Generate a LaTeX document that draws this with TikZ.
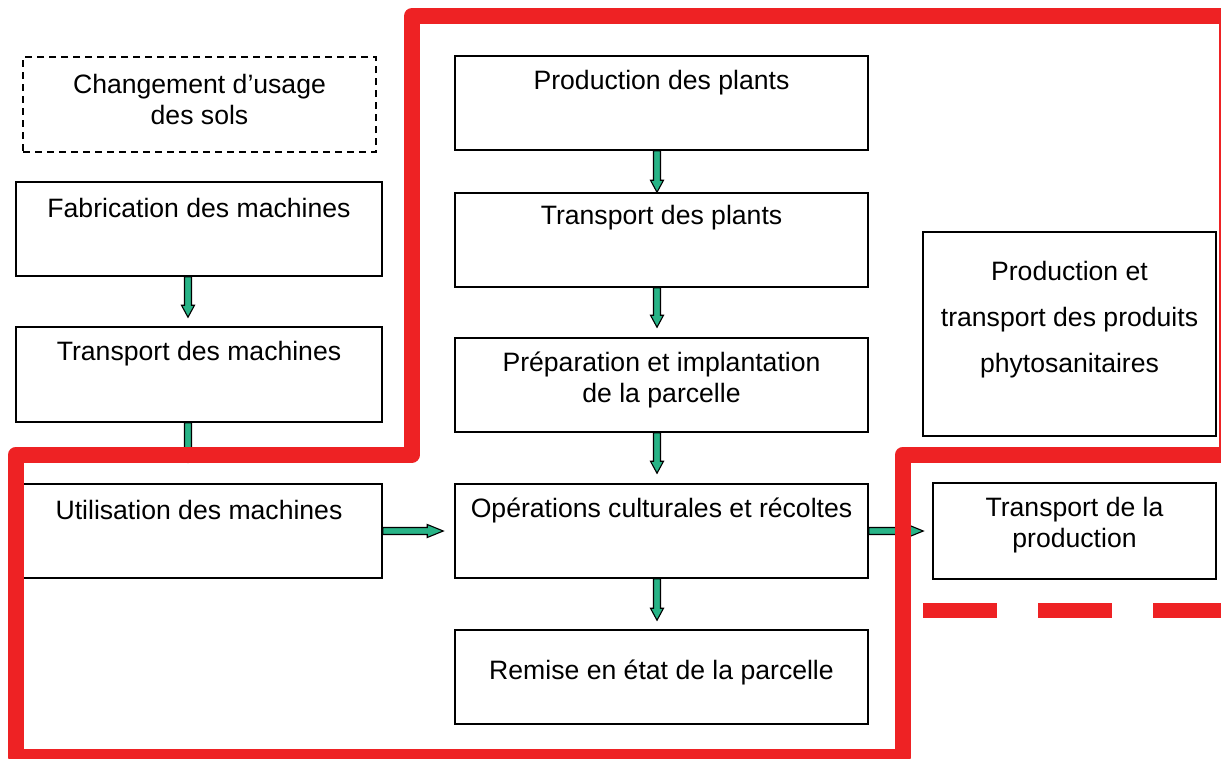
\documentclass[tikz,border=0pt]{standalone}
\usepackage{fontspec}
\setmainfont{Liberation Sans}
\usetikzlibrary{calc}
\definecolor{redline}{RGB}{238,34,36}
\definecolor{arrgreen}{RGB}{40,180,135}
\newcommand{\vblock}[2]{\draw[blockarr] ($(#1)+(-3.5,0)$) -- ($(#2)+(-3.5,-12)$) -- ($(#2)+(-6.5,-12)$) -- (#2) -- ($(#2)+(6.5,-12)$) -- ($(#2)+(3.5,-12)$) -- ($(#1)+(3.5,0)$) -- cycle;}
\newcommand{\hblock}[2]{\draw[blockarr] ($(#1)+(0,-3.5)$) -- ($(#2)+(-16,-3.5)$) -- ($(#2)+(-16,-6.5)$) -- (#2) -- ($(#2)+(-16,6.5)$) -- ($(#2)+(-16,3.5)$) -- ($(#1)+(0,3.5)$) -- cycle;}
\begin{document}
\begin{tikzpicture}[x=1pt,y=-1pt,
  box/.style={draw=black, line width=1.5pt, inner sep=0pt},
  txt/.style={font=\fontsize{26.6}{31}\selectfont, align=center, inner sep=0pt},
  blockarr/.style={draw=black, line width=1.1pt, fill=arrgreen, line join=miter},
  redpath/.style={draw=redline, line width=16pt, line join=round},
  reddash/.style={draw=redline, line width=15pt, dash pattern=on 74pt off 41pt}]
\useasboundingbox (0,0) rectangle (1221,758);
\clip (0,0) rectangle (1221,758);
% boxes
\node[box, dashed, dash pattern=on 7pt off 5pt, minimum width=353pt, minimum height=95pt] (chg) at (199.5,104.5) {};
\node[box, minimum width=366pt, minimum height=94pt] (fab) at (199,229) {};
\node[box, minimum width=366pt, minimum height=95pt] (tm) at (199,374.5) {};
\node[box, minimum width=366pt, minimum height=94pt] (util) at (199,531) {};
\node[box, minimum width=413pt, minimum height=94pt] (pp) at (661.5,103) {};
\node[box, minimum width=413pt, minimum height=94pt] (tp) at (661.5,240) {};
\node[box, minimum width=413pt, minimum height=94pt] (prep) at (661.5,385) {};
\node[box, minimum width=413pt, minimum height=94pt] (ops) at (661.5,531) {};
\node[box, minimum width=413pt, minimum height=94pt] (rem) at (661.5,677) {};
\node[box, minimum width=293pt, minimum height=204pt] (phy) at (1069.5,334) {};
\node[box, minimum width=283pt, minimum height=96pt] (trp) at (1074.5,531) {};
% texts
\node[txt] (tchg) at (199.5,99) {Changement d’usage\\des sols};
\node[txt] (tfab) at (199,208) {Fabrication des machines};
\node[txt] (ttm) at (199,354) {Transport des machines};
\node[txt] (tutil) at (199,510) {Utilisation des machines};
\node[txt] (tpp) at (661.5,83) {Production des plants};
\node[txt] (ttp) at (661.5,218) {Transport des plants};
\node[txt] (tprep) at (661.5,380) {Préparation et implantation\\de la parcelle};
\node[txt] (tops) at (661.5,510) {Opérations culturales et récoltes};
\node[txt] (trem) at (661.5,672) {Remise en état de la parcelle};
\node[txt, font=\fontsize{26.6}{46}\selectfont] (tphy) at (1069.5,320) {Production et\\transport des produits\\phytosanitaires};
\node[txt] (ttrp) at (1074.5,525) {Transport de la\\production};
% arrow ends
\coordinate (s1) at ($(fab.south)+(-11,0)$);
\coordinate (e1) at ($(tm.north)+(-11,-9)$);
\coordinate (s2) at ($(tm.south)+(-11,0)$);
\coordinate (e2) at ($(util.north)+(-11,-21)$);
\coordinate (s3) at ($(pp.south)+(-4.5,0)$);
\coordinate (e3) at ($(tp.north)+(-4.5,0)$);
\coordinate (s4) at ($(tp.south)+(-4.5,0)$);
\coordinate (e4) at ($(prep.north)+(-4.5,-10)$);
\coordinate (s5) at ($(prep.south)+(-4.5,0)$);
\coordinate (e5) at ($(ops.north)+(-4.5,-10)$);
\coordinate (s6) at ($(ops.south)+(-4.5,0)$);
\coordinate (e6) at ($(rem.north)+(-4.5,-9)$);
\coordinate (e7) at ($(ops.west)+(-11,0)$);
\coordinate (e8) at ($(trp.west)+(-9,0)$);
% arrows
\vblock{s1}{e1}
\vblock{s2}{e2}
\vblock{s3}{e3}
\vblock{s4}{e4}
\vblock{s5}{e5}
\vblock{s6}{e6}
\hblock{util.east}{e7}
\hblock{ops.east}{e8}
% red boundary
\draw[redpath] (1227,16) -- (412,16) -- (412,454.5) -- (16,454.5) -- (16,757) -- (903,757) -- (903,454.5) -- (1227,454.5) -- cycle;
\draw[reddash] (923,610.5) -- (1260,610.5);
\end{tikzpicture}
\end{document}
